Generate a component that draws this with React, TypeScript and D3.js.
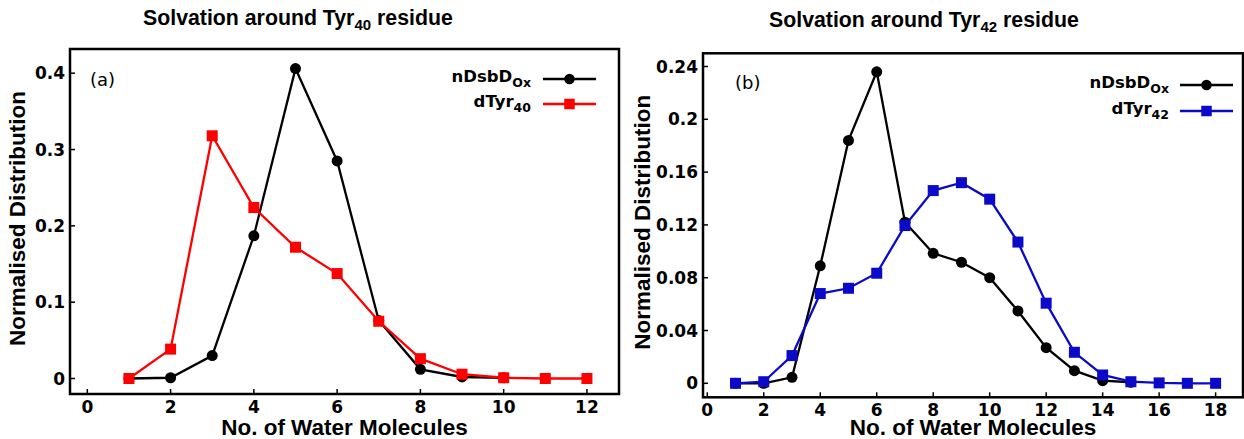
import React from "react";
import * as d3 from "d3";

// ---------- data ----------
const leftX = [1, 2, 3, 4, 5, 6, 7, 8, 9, 10, 11, 12];
const leftNDsbD = [0, 0.001, 0.030, 0.187, 0.406, 0.285, 0.076, 0.012, 0.002, 0.001];
const leftDTyr40 = [0, 0.0385, 0.318, 0.224, 0.172, 0.1375, 0.075, 0.026, 0.0056, 0.001, 0, 0];

const rightX = [1, 2, 3, 4, 5, 6, 7, 8, 9, 10, 11, 12, 13, 14, 15, 16, 17, 18];
const rightNDsbD = [0, 0, 0.0045, 0.089, 0.184, 0.236, 0.122, 0.0985, 0.0917, 0.080, 0.0548, 0.027, 0.0096, 0.002, 0.0008];
const rightDTyr42 = [0, 0.0012, 0.021, 0.068, 0.072, 0.0834, 0.1195, 0.146, 0.152, 0.1395, 0.107, 0.0607, 0.0235, 0.0063, 0.0012, 0.0003, 0, 0];

const leftXTicks = [0, 2, 4, 6, 8, 10, 12];
const leftYTicks = [0, 0.1, 0.2, 0.3, 0.4];
const leftYTickLabels = ["0", "0.1", "0.2", "0.3", "0.4"];
const rightXTicks = [0, 2, 4, 6, 8, 10, 12, 14, 16, 18];
const rightYTicks = [0, 0.04, 0.08, 0.12, 0.16, 0.2, 0.24];
const rightYTickLabels = ["0", "0.04", "0.08", "0.12", "0.16", "0.2", "0.24"];

const TICK_FONT = "'DejaVu Sans', sans-serif";
const LABEL_FONT = "'Liberation Sans', Arial, sans-serif";

type Series = { xs: number[]; ys: number[]; color: string; marker: "circle" | "square" };

type PanelProps = {
  frame: { x0: number; x1: number; y0: number; y1: number };
  xDomain: [number, number];
  yDomain: [number, number];
  xTicks: number[];
  yTicks: number[];
  yTickLabels: string[];
  series: Series[];
  title: { x: number; y: number; sub: string };
  xLabelY: number;
  xTickLabelY: number;
  yLabelX: number;
  panelTag: { text: string; x: number; y: number };
  legend: { textX: number; lineX0: number; lineX1: number; rows: { y: number; main: string; sub: string }[] };
};

function Marker({ x, y, color, marker, size }: { x: number; y: number; color: string; marker: string; size: number }) {
  if (marker === "circle") return <circle cx={x} cy={y} r={size / 2} fill={color} />;
  return <rect x={x - size / 2} y={y - size / 2} width={size} height={size} fill={color} />;
}

function Panel(p: PanelProps) {
  const { frame } = p;
  const x = d3.scaleLinear().domain(p.xDomain).range([frame.x0, frame.x1]);
  const y = d3.scaleLinear().domain(p.yDomain).range([frame.y1, frame.y0]);
  const line = d3
    .line<[number, number]>()
    .x((d) => x(d[0]))
    .y((d) => y(d[1]));
  const tickLen = 5;
  const cx = (frame.x0 + frame.x1) / 2;
  const cy = (frame.y0 + frame.y1) / 2 - 3;
  return (
    <g>
      {/* title */}
      <text x={p.title.x} y={p.title.y} fontFamily={LABEL_FONT} fontWeight="bold" fontSize={21.3} fill="#000">
        Solvation around Tyr
        <tspan fontSize={15} dy={5}>{p.title.sub}</tspan>
        <tspan dy={-5}> residue</tspan>
      </text>
      {/* series */}
      {p.series.map((s, i) => {
        const pts: [number, number][] = s.ys.map((v, k) => [s.xs[k], v]);
        return (
          <g key={i}>
            <path d={line(pts) || ""} fill="none" stroke={s.color} strokeWidth={2.3} />
            {pts.map((d, k) => (
              <Marker key={k} x={x(d[0])} y={y(d[1])} color={s.color} marker={s.marker} size={11} />
            ))}
          </g>
        );
      })}
      {/* frame */}
      <rect x={frame.x0} y={frame.y0} width={frame.x1 - frame.x0} height={frame.y1 - frame.y0} fill="none" stroke="#000" strokeWidth={2.5} />
      {/* x ticks */}
      {p.xTicks.map((t) => (
        <g key={"x" + t}>
          <line x1={x(t)} x2={x(t)} y1={frame.y1} y2={frame.y1 - tickLen} stroke="#000" strokeWidth={1.5} />
          <text x={x(t)} y={p.xTickLabelY} textAnchor="middle" fontFamily={TICK_FONT} fontWeight="bold" fontSize={17} fill="#000">
            {t}
          </text>
        </g>
      ))}
      {/* y ticks */}
      {p.yTicks.map((t, i) => (
        <g key={"y" + t}>
          <line x1={frame.x0} x2={frame.x0 + tickLen} y1={y(t)} y2={y(t)} stroke="#000" strokeWidth={1.5} />
          <text x={frame.x0 - 5} y={y(t)} dy="0.36em" textAnchor="end" fontFamily={TICK_FONT} fontWeight="bold" fontSize={17} fill="#000">
            {p.yTickLabels[i]}
          </text>
        </g>
      ))}
      {/* axis labels */}
      <text x={cx} y={p.xLabelY} textAnchor="middle" fontFamily={LABEL_FONT} fontWeight="bold" fontSize={22.5} fill="#000">
        No. of Water Molecules
      </text>
      <text
        transform={`translate(${p.yLabelX},${cy}) rotate(-90)`}
        textAnchor="middle"
        fontFamily={LABEL_FONT}
        fontWeight="bold"
        fontSize={22.5}
        fill="#000"
      >
        Normalised Distribution
      </text>
      {/* panel tag */}
      <text x={p.panelTag.x} y={p.panelTag.y} fontFamily={TICK_FONT} fontSize={18} fill="#000">
        {p.panelTag.text}
      </text>
      {/* legend */}
      {p.legend.rows.map((r, i) => {
        const s = p.series[i];
        return (
          <g key={"lg" + i}>
            <text x={p.legend.textX} y={r.y} dy={3} textAnchor="end" fontFamily={TICK_FONT} fontWeight="bold" fontSize={16.5} fill="#000">
              {r.main}
              <tspan fontSize={12.5} dy={5}>{r.sub}</tspan>
            </text>
            <line x1={p.legend.lineX0} x2={p.legend.lineX1} y1={r.y} y2={r.y} stroke={s.color} strokeWidth={2.3} />
            <Marker x={(p.legend.lineX0 + p.legend.lineX1) / 2} y={r.y} color={s.color} marker={s.marker} size={10.5} />
          </g>
        );
      })}
    </g>
  );
}

export default function App() {
  return (
    <svg
      width={1244}
      height={439}
      viewBox="0 0 1244 439"
      style={{ position: "absolute", left: 0, top: 0, background: "#fff" }}
    >
      <rect x={0} y={0} width={1244} height={439} fill="#fff" />
      <Panel
        frame={{ x0: 70, x1: 619, y0: 49, y1: 394 }}
        xDomain={[-0.416, 12.77]}
        yDomain={[-0.0203, 0.4317]}
        xTicks={leftXTicks}
        yTicks={leftYTicks}
        yTickLabels={leftYTickLabels}
        series={[
          { xs: leftX, ys: leftNDsbD, color: "#000000", marker: "circle" },
          { xs: leftX, ys: leftDTyr40, color: "#ff0000", marker: "square" },
        ]}
        title={{ x: 143, y: 25, sub: "40" }}
        xLabelY={435}
        xTickLabelY={413}
        yLabelX={25}
        panelTag={{ text: "(a)", x: 90, y: 86 }}
        legend={{
          textX: 531,
          lineX0: 543,
          lineX1: 596,
          rows: [
            { y: 79, main: "nDsbD", sub: "Ox" },
            { y: 104, main: "dTyr", sub: "40" },
          ],
        }}
      />
      <Panel
        frame={{ x0: 703, x1: 1243, y0: 53.3, y1: 397.3 }}
        xDomain={[-0.152, 18.97]}
        yDomain={[-0.0106, 0.25]}
        xTicks={rightXTicks}
        yTicks={rightYTicks}
        yTickLabels={rightYTickLabels}
        series={[
          { xs: rightX, ys: rightNDsbD, color: "#000000", marker: "circle" },
          { xs: rightX, ys: rightDTyr42, color: "#0a0ac8", marker: "square" },
        ]}
        title={{ x: 769, y: 26.5, sub: "42" }}
        xLabelY={435}
        xTickLabelY={416}
        yLabelX={650}
        panelTag={{ text: "(b)", x: 735, y: 89 }}
        legend={{
          textX: 1169,
          lineX0: 1180,
          lineX1: 1233,
          rows: [
            { y: 85, main: "nDsbD", sub: "Ox" },
            { y: 111, main: "dTyr", sub: "42" },
          ],
        }}
      />
    </svg>
  );
}
